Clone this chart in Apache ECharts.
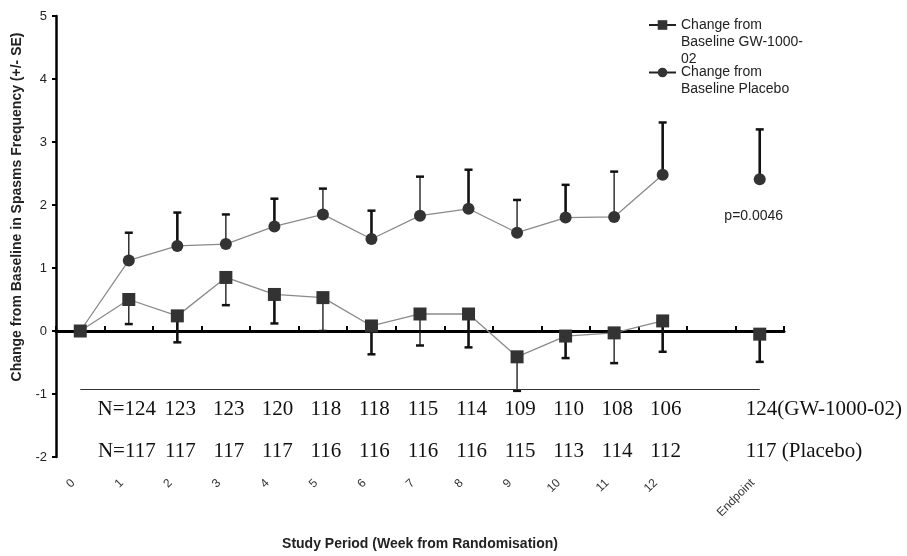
<!DOCTYPE html>
<html>
<head>
<meta charset="utf-8">
<script src="https://cdn.jsdelivr.net/npm/echarts@6/dist/echarts.min.js"></script>
<style>
  html, body { margin: 0; padding: 0; background: #fff; }
  #chart { width: 907px; height: 556px; }
</style>
</head>
<body>
<div id="chart"></div>
<script>
// categories (week 13 is an empty slot before the endpoint)
var weeks = ["0", "1", "2", "3", "4", "5", "6", "7", "8", "9", "10", "11", "12", "", "Endpoint"];

// mean change from baseline
var gwMean = [0, 0.50, 0.24, 0.85, 0.58, 0.53, 0.08, 0.27, 0.27, -0.41, -0.08, -0.03, 0.16, null, -0.05];
var gwLower = [null, 0.11, -0.18, 0.41, 0.12, 0.0, -0.37, -0.23, -0.26, -0.95, -0.43, -0.51, -0.33, null, -0.49];
var placeboMean = [0, 1.12, 1.35, 1.38, 1.66, 1.85, 1.46, 1.83, 1.94, 1.56, 1.80, 1.81, 2.48, null, 2.41];
var placeboUpper = [null, 1.56, 1.88, 1.85, 2.10, 2.26, 1.91, 2.45, 2.56, 2.08, 2.32, 2.53, 3.31, null, 3.20];

// patients per visit
var gwN = [null, 124, 123, 123, 120, 118, 118, 115, 114, 109, 110, 108, 106, null, 124];
var placeboN = [null, 117, 117, 117, 117, 116, 116, 116, 116, 115, 113, 114, 112, null, 117];
var gwTag = "(GW-1000-02)";
var placeboTag = " (Placebo)";
var pValueText = "p=0.0046";

var yTicks = { min: -2, max: 5, step: 1 };

var FONT = 'Arial, "Liberation Sans", sans-serif';
var SERIF = '"Times New Roman", "Liberation Serif", serif';
var lastIdx = weeks.length - 1;

// layout constants for annotations (value-axis units)
var sepY = -0.92;
var rowGwY = -1.24;
var rowPlaceboY = -1.915;
var pValueY = 1.825;

function barData(mean, bound) {
  var out = [];
  mean.forEach(function (v, i) {
    if (v != null && bound[i] != null) out.push([i, v, bound[i]]);
  });
  return out;
}

function rowTexts(list, tag) {
  var texts = [], data = [];
  list.forEach(function (n, i) {
    if (n == null) return;
    var t = String(n);
    if (i === 1) t = "N=" + t;
    if (i === lastIdx) t = t + tag;
    texts.push(t);
    data.push(i);
  });
  return { texts: texts, idx: data };
}

function errorBar(params, api) {
  var i = api.value(0);
  var a = api.coord([i, api.value(1)]);
  var b = api.coord([i, api.value(2)]);
  var w = i % 2 === 0 ? 2.6 : 1.3;
  return {
    type: "group",
    children: [
      { type: "line", shape: { x1: a[0], y1: a[1], x2: b[0], y2: b[1] }, style: { stroke: "#111", lineWidth: w } },
      { type: "line", shape: { x1: b[0] - 4, y1: b[1], x2: b[0] + 4, y2: b[1] }, style: { stroke: "#111", lineWidth: 2.5 } }
    ]
  };
}

function textRow(row, rowY) {
  return {
    type: "custom",
    silent: true,
    z: 5,
    data: row.idx.map(function (i) { return [i, rowY]; }),
    renderItem: function (params, api) {
      var i = api.value(0);
      var p = api.coord([i, rowY]);
      var last = i === lastIdx;
      return {
        type: "text",
        x: last ? p[0] - 14 : (i === 1 ? p[0] - 2 : p[0] + 3),
        y: p[1],
        style: {
          text: row.texts[params.dataIndex],
          font: "21px " + SERIF,
          fill: "#111",
          align: last ? "left" : "center",
          verticalAlign: "middle"
        }
      };
    }
  };
}

// leading blank lines keep the first text line level with the legend symbol
var legendNames = {
  "GW-1000-02": "\n\nChange from\nBaseline GW-1000-\n02",
  "Placebo": "\nChange from\nBaseline Placebo"
};

function legendAt(name, top) {
  return {
    data: [name],
    left: 648,
    top: top,
    padding: 0,
    itemWidth: 27,
    itemHeight: 12,
    selectedMode: false,
    formatter: function (n) { return legendNames[n]; },
    textStyle: { fontFamily: FONT, fontSize: 14, color: "#222", lineHeight: 17 },
    lineStyle: { color: "#222", width: 2 }
  };
}

var chart = echarts.init(document.getElementById("chart"));

var option = {
  animation: false,
  backgroundColor: "#fff",
  grid: { left: 56, right: 123, top: 16, bottom: 99 },
  legend: [
    legendAt("GW-1000-02", -17.5),
    legendAt("Placebo", 47)
  ],
  xAxis: [
    {
      // the zero line with its ticks
      type: "category",
      data: weeks,
      boundaryGap: true,
      position: "bottom",
      axisLine: { onZero: true, lineStyle: { color: "#000", width: 3 } },
      axisTick: { show: true, inside: true, length: 5, interval: 0, lineStyle: { color: "#000", width: 2 } },
      axisLabel: { show: false },
      splitLine: { show: false }
    },
    {
      // week labels along the bottom
      type: "category",
      data: weeks,
      boundaryGap: true,
      position: "bottom",
      axisLine: { show: false, onZero: false },
      axisTick: { show: false },
      axisLabel: { interval: 0, rotate: 45, margin: 17, padding: [0, 10, 0, 0], fontFamily: FONT, fontSize: 12, color: "#333" },
      splitLine: { show: false },
      name: "Study Period (Week from Randomisation)",
      nameLocation: "middle",
      nameGap: 80,
      nameTextStyle: { fontFamily: FONT, fontSize: 14, fontWeight: "bold", color: "#222" }
    }
  ],
  yAxis: {
    type: "value",
    min: yTicks.min,
    max: yTicks.max,
    interval: yTicks.step,
    axisLine: { show: true, lineStyle: { color: "#000", width: 2.5 } },
    axisTick: { show: true, length: 4, lineStyle: { color: "#000", width: 2 } },
    axisLabel: { margin: 9, fontFamily: FONT, fontSize: 13, color: "#222" },
    splitLine: { show: false },
    name: "Change from Baseline in Spasms Frequency (+/- SE)",
    nameLocation: "middle",
    nameGap: 29,
    nameTextStyle: { fontFamily: FONT, fontSize: 14, fontWeight: "bold", color: "#222", padding: [0, 0, 0, 59] }
  },
  series: [
    {
      type: "custom",
      name: "gwErr",
      silent: true,
      renderItem: errorBar,
      data: barData(gwMean, gwLower),
      z: 1
    },
    {
      type: "custom",
      name: "placeboErr",
      silent: true,
      renderItem: errorBar,
      data: barData(placeboMean, placeboUpper),
      z: 1
    },
    {
      name: "Placebo",
      type: "line",
      data: placeboMean,
      connectNulls: false,
      symbol: "circle",
      symbolSize: 12,
      itemStyle: { color: "#333" },
      lineStyle: { color: "#8a8a8a", width: 1.3 },
      z: 3
    },
    {
      name: "GW-1000-02",
      type: "line",
      data: gwMean,
      connectNulls: false,
      symbol: "rect",
      symbolSize: 13,
      itemStyle: { color: "#333" },
      lineStyle: { color: "#8a8a8a", width: 1.3 },
      z: 4,
      markLine: {
        silent: true,
        symbol: ["none", "none"],
        label: { show: false },
        lineStyle: { color: "#333", width: 1, type: "solid" },
        data: [[{ coord: [0, sepY] }, { coord: [lastIdx, sepY] }]]
      }
    },
    textRow(rowTexts(gwN, gwTag), rowGwY),
    textRow(rowTexts(placeboN, placeboTag), rowPlaceboY),
    {
      type: "custom",
      silent: true,
      data: [[lastIdx, pValueY]],
      renderItem: function (params, api) {
        var p = api.coord([api.value(0), api.value(1)]);
        return {
          type: "text",
          x: p[0] - 6,
          y: p[1],
          style: { text: pValueText, font: "14px " + FONT, fill: "#222", align: "center", verticalAlign: "middle" }
        };
      }
    }
  ]
};

chart.setOption(option);
</script>
</body>
</html>
